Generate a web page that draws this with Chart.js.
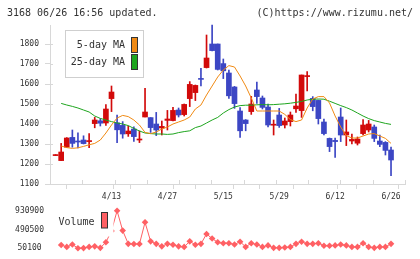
<!DOCTYPE html>
<html><head><meta charset="utf-8">
<script src="https://cdn.jsdelivr.net/npm/chart.js@4/dist/chart.umd.min.js"></script>
<style>
html,body{margin:0;padding:0;background:#fff;}
#wrap{position:relative;width:420px;height:259px;overflow:hidden;}
#c1{position:absolute;left:0;top:0;}
#c2{position:absolute;left:0;top:200px;}
</style></head><body>
<div id="wrap">
<canvas id="c1" width="420" height="205"></canvas>
<canvas id="c2" width="420" height="59"></canvas>
</div>
<script>
// ---- data ----
const dates = ['3/30','3/31','4/1','4/2','4/3','4/6','4/7','4/8','4/9','4/10','4/13','4/14','4/15','4/16','4/17','4/20','4/21','4/22','4/23','4/24','4/27','4/28','4/30','5/1','5/7','5/8','5/11','5/12','5/13','5/14','5/15','5/18','5/19','5/20','5/21','5/22','5/25','5/26','5/27','5/28','5/29','6/1','6/2','6/3','6/4','6/5','6/8','6/9','6/10','6/11','6/12','6/15','6/16','6/17','6/18','6/19','6/22','6/23','6/24','6/25','6/26'];
const tickLabels = ['4/13','4/27','5/15','5/29','6/12','6/26'];
const priceTicks = [1100,1200,1300,1400,1500,1600,1700,1800];
const opens  = [1242,1217,1284,1333,1315,1320,1312,1402,1416,1405,1527,1406,1393,1351,1375,1320,1435,1432,1400,1380,1418,1417,1470,1447,1527,1557,1627,1682,1800,1800,1702,1655,1585,1465,1420,1462,1570,1530,1485,1394,1445,1395,1412,1476,1467,1637,1528,1518,1410,1328,1318,1435,1345,1315,1304,1352,1370,1385,1315,1308,1270];
const highs  = [1242,1303,1332,1370,1356,1341,1352,1433,1427,1497,1590,1445,1412,1390,1386,1365,1578,1432,1458,1415,1468,1483,1480,1500,1612,1595,1678,1845,1895,1800,1725,1670,1588,1482,1422,1538,1610,1540,1500,1420,1478,1430,1460,1550,1645,1662,1537,1520,1425,1330,1330,1480,1420,1350,1335,1422,1418,1395,1345,1312,1285];
const lows   = [1242,1217,1282,1284,1281,1300,1282,1381,1390,1393,1462,1307,1329,1338,1313,1307,1435,1358,1342,1345,1370,1415,1435,1440,1487,1517,1591,1680,1766,1670,1627,1528,1478,1333,1366,1448,1503,1475,1385,1345,1383,1380,1390,1458,1433,1565,1466,1400,1345,1262,1233,1312,1292,1300,1295,1345,1360,1312,1287,1245,1142];
const closes = [1242,1260,1330,1303,1310,1302,1314,1420,1404,1475,1560,1371,1350,1365,1337,1322,1460,1382,1370,1388,1425,1468,1445,1498,1598,1593,1623,1730,1767,1673,1666,1541,1502,1366,1402,1500,1537,1483,1395,1397,1392,1415,1445,1490,1645,1640,1487,1427,1352,1287,1312,1345,1360,1323,1325,1395,1400,1328,1298,1268,1220];
const ma5  = [null,1290,1282,1278,1281,1288,1296,1303,1320,1355,1395,1430,1443,1437,1420,1395,1358,1352,1360,1375,1385,1400,1410,1420,1435,1475,1495,1545,1590,1635,1670,1692,1685,1640,1590,1530,1465,1465,1465,1465,1465,1448,1422,1412,1420,1480,1525,1537,1537,1505,1440,1385,1342,1330,1330,1340,1350,1352,1340,1328,1303];
const ma25 = [null,1503,1495,1488,1480,1470,1460,1440,1428,1420,1412,1405,1400,1392,1378,1365,1355,1352,1350,1350,1348,1350,1357,1362,1366,1382,1390,1405,1420,1433,1455,1472,1485,1492,1494,1494,1496,1497,1496,1497,1499,1501,1504,1508,1513,1520,1524,1525,1524,1514,1503,1492,1482,1470,1455,1440,1427,1417,1410,1403,1398];
const volume = [null,124200,80600,137300,50100,52000,80600,93700,58800,189600,457800,930900,464300,152600,150000,148000,660600,211400,152600,93700,152600,130800,93700,80600,211400,130800,152600,385800,276800,189600,167800,167800,137300,202700,80600,167800,137300,80600,115500,58800,58800,65400,80600,152600,202700,152600,152600,167800,109000,109000,115500,137300,115500,80600,80600,167800,80600,58800,80600,80600,152600];
const volTicks = [50100,490500,930900];

// ---- style ----
const FONT = 'DejaVu Sans Mono';
const RED = '#d20a0a', BLUE = '#3c46c4', ORANGE = '#f08a14', GREEN = '#1ea51e', VOLC = '#ff6064';
const AXIS = '#d8d8d8', TXT = '#333';

const idx = dates.map((d, i) => i);
const candleCol = idx.map(i => closes[i] >= opens[i] ? RED : BLUE);

const decor = {
  id: 'decor',
  afterDraw(chart) {
    const ctx = chart.ctx, ca = chart.chartArea;
    ctx.save();
    ctx.strokeStyle = AXIS; ctx.lineWidth = 1;
    const ys = chart.scales.y;
    ys.ticks.forEach(t => { const p = Math.round(ys.getPixelForValue(t.value)) + 0.5; ctx.beginPath(); ctx.moveTo(ca.left, p); ctx.lineTo(ca.left + 3, p); ctx.stroke(); });
    const xs = chart.scales.x;
    xs.ticks.forEach(t => { if (!t.grid) return; const p = Math.round(xs.getPixelForValue(t.value)) + 0.5; ctx.beginPath(); ctx.moveTo(p, ca.bottom - 4); ctx.lineTo(p, ca.bottom); ctx.stroke(); });
    ctx.fillStyle = TXT; ctx.font = '10px ' + FONT; ctx.textBaseline = 'middle';
    ctx.textAlign = 'left'; ctx.fillText('3168 06/26 16:56 updated.', 7, 13.5);
    ctx.textAlign = 'right'; ctx.fillText('(C)https://www.rizumu.net/', 413, 13.5);
    ctx.fillStyle = '#fff'; ctx.strokeStyle = '#cfcfcf';
    ctx.fillRect(65.5, 30.5, 78, 47); ctx.strokeRect(65.5, 30.5, 78, 47);
    ctx.fillStyle = TXT; ctx.textAlign = 'right';
    ctx.fillText('5-day MA', 125, 45.5);
    ctx.fillText('25-day MA', 125, 62.5);
    ctx.strokeStyle = '#333';
    ctx.fillStyle = ORANGE; ctx.fillRect(131.5, 37.5, 6, 15); ctx.strokeRect(131.5, 37.5, 6, 15);
    ctx.fillStyle = GREEN; ctx.fillRect(131.5, 54.5, 6, 15); ctx.strokeRect(131.5, 54.5, 6, 15);
    ctx.restore();
  }
};

new Chart(document.getElementById('c1'), {
  type: 'bar',
  data: {
    datasets: [
      { type: 'line', label: '5-day MA', data: idx.map(i => ({ x: i, y: ma5[i] })), borderColor: ORANGE, borderWidth: 1, pointRadius: 0, order: 0, clip: false },
      { type: 'line', label: '25-day MA', data: idx.map(i => ({ x: i, y: ma25[i] })), borderColor: GREEN, borderWidth: 1, pointRadius: 0, order: 0, clip: false },
      { label: 'wick', data: idx.map(i => ({ x: i, y: [lows[i], highs[i]] })), backgroundColor: candleCol, barThickness: 1, grouped: false, minBarLength: 1, order: 2, clip: false },
      { label: 'body', data: idx.map(i => ({ x: i, y: [opens[i], closes[i]] })), backgroundColor: candleCol, barThickness: 5, grouped: false, minBarLength: 1, order: 1, clip: false }
    ]
  },
  options: {
    responsive: false, animation: false, devicePixelRatio: 1,
    layout: { padding: { top: 25, right: 15, left: 0, bottom: 0 } },
    scales: {
      x: {
        type: 'linear', min: -1, max: 62.5, offset: false,
        afterBuildTicks: s => {
          const t = [];
          for (let k = 0; k <= 11; k++) t.push({ value: s.min + k * (s.max - s.min) / 11, grid: true });
          tickLabels.forEach(l => t.push({ value: dates.indexOf(l), grid: false, lab: l }));
          t.sort((a, b) => a.value - b.value);
          s.ticks = t;
        },
        ticks: { autoSkip: false, maxRotation: 0, padding: 3, color: TXT, font: { family: FONT, size: 8 },
          callback: (v, i, ticks) => ticks[i].grid ? '' : ticks[i].lab },
        grid: { drawOnChartArea: false, drawTicks: true, tickLength: 5,
          color: c => (c.tick && c.tick.grid) ? AXIS : 'rgba(0,0,0,0)' },
        border: { display: true, color: AXIS },
        afterFit: s => { s.height = 21; }
      },
      y: {
        min: 1100, max: 1895,
        afterBuildTicks: s => { s.ticks = priceTicks.map(v => ({ value: v })); },
        ticks: { autoSkip: false, padding: 6, color: TXT, font: { family: FONT, size: 8 }, callback: v => String(v) },
        grid: { drawOnChartArea: false, tickLength: 5, color: AXIS },
        border: { display: true, color: AXIS },
        afterFit: s => { s.width = 50; }
      }
    },
    plugins: { legend: { display: false }, tooltip: { enabled: false } }
  },
  plugins: [decor]
});

const volLegend = {
  id: 'volLegend',
  afterDatasetsDraw(chart) {
    const ctx = chart.ctx;
    ctx.save();
    ctx.fillStyle = '#fff';
    ctx.fillRect(55, 9, 58.5, 27.5);
    ctx.fillStyle = TXT; ctx.font = '10px ' + FONT; ctx.textBaseline = 'middle'; ctx.textAlign = 'left';
    ctx.fillText('Volume', 58.5, 22.5);
    ctx.fillStyle = VOLC; ctx.strokeStyle = '#333'; ctx.lineWidth = 1;
    ctx.fillRect(101.5, 12.5, 6, 15.5); ctx.strokeRect(101.5, 12.5, 6, 15.5);
    ctx.restore();
  }
};

new Chart(document.getElementById('c2'), {
  type: 'line',
  data: {
    datasets: [{ label: 'Volume', data: idx.map(i => ({ x: i, y: volume[i] })), borderColor: VOLC, backgroundColor: VOLC,
      borderWidth: 1, pointStyle: 'rectRot', pointRadius: 3.3, pointBorderWidth: 0, clip: false }]
  },
  options: {
    responsive: false, animation: false, devicePixelRatio: 1,
    layout: { padding: { top: 9.3, right: 15, left: 0, bottom: 9.3 } },
    scales: {
      x: { type: 'linear', min: -1, max: 62.5, display: false },
      y: {
        min: volTicks[0], max: volTicks[volTicks.length - 1],
        afterBuildTicks: s => { s.ticks = volTicks.map(v => ({ value: v })); },
        ticks: { autoSkip: false, crossAlign: 'center', padding: 6, color: TXT, font: { family: FONT, size: 8 }, callback: v => String(v) },
        grid: { display: false, drawTicks: false },
        border: { display: false },
        afterFit: s => { s.width = 50; }
      }
    },
    plugins: { legend: { display: false }, tooltip: { enabled: false } }
  },
  plugins: [volLegend]
});
</script>
</body></html>
